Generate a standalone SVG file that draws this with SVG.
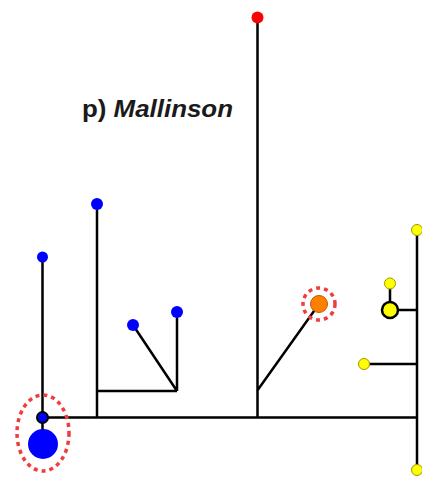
<svg xmlns="http://www.w3.org/2000/svg" width="422" height="479" viewBox="0 0 422 479">
<style>
.e{stroke:#000;stroke-width:2.5;fill:none;stroke-linecap:butt}
.b{fill:#0000ff}
.y{fill:#ffff00;stroke:#9a9a00;stroke-width:1}
.hl{fill:none;stroke:#f03c3c;stroke-width:3.5;stroke-dasharray:4 4}
.t{font-family:"Liberation Sans",Arial,sans-serif;font-weight:bold;font-size:23px;fill:#1a1a1a}
</style>
<rect width="422" height="479" fill="#fff"/>
<g id="connectors">
<path class="e" d="M42,417.5H417M42.5,257V443M97,204V417.5M97,391H177M177,391V312M177,391L133,325M257.5,17V417.5M257,391L319,304M417,230V470M390,310H417M390,283V310M364,364H417"/>
</g>
<text class="t" x="82" y="117" textLength="151" lengthAdjust="spacingAndGlyphs">p) <tspan font-style="italic">Mallinson</tspan></text>
<g id="n_blue_big"><ellipse class="hl" cx="43" cy="433" rx="26" ry="38"/><circle class="b" cx="43" cy="444" r="15"/></g>
<g id="n_blue_root"><circle class="b" cx="42.5" cy="417.5" r="5.5" stroke="#000" stroke-width="2"/></g>
<g id="n_blue1"><circle class="b" cx="42.5" cy="257" r="5.5"/></g>
<g id="n_blue2"><circle class="b" cx="97" cy="204" r="6"/></g>
<g id="n_blue3"><circle class="b" cx="133" cy="325" r="6"/></g>
<g id="n_blue4"><circle class="b" cx="177" cy="312" r="6"/></g>
<g id="n_red"><circle cx="257.5" cy="17.5" r="6" fill="#ff0000"/></g>
<g id="n_orange"><circle class="hl" cx="319" cy="304" r="16"/><circle cx="319" cy="304" r="8.5" fill="#ff7f00" stroke="#b86000" stroke-width="1"/></g>
<g id="n_y1"><circle class="y" cx="417" cy="230" r="5.5"/></g>
<g id="n_y2"><circle class="y" cx="390" cy="283.5" r="5.5"/></g>
<g id="n_y3"><circle cx="390" cy="310" r="8" fill="#ffff00" stroke="#000" stroke-width="2.5"/></g>
<g id="n_y4"><circle class="y" cx="364" cy="364" r="5.5"/></g>
<g id="n_y5"><circle class="y" cx="417" cy="470" r="5.5"/></g>
</svg>
